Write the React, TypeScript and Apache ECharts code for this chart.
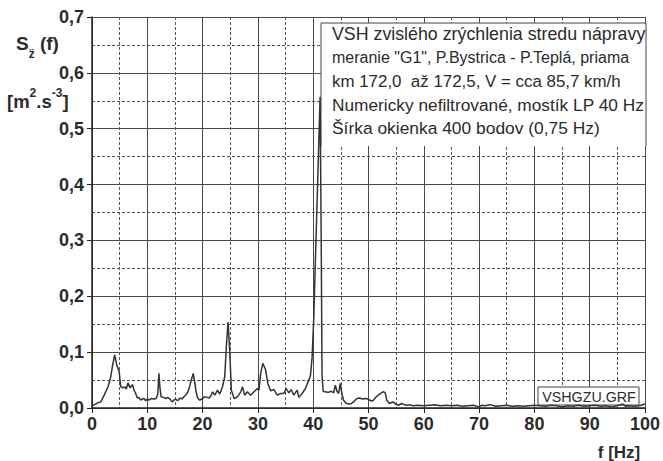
import React, { useEffect, useRef } from "react";
import * as echarts from "echarts";

// Frequency [Hz] and PSD values [m^2.s^-3]
const freqs = [
  0.0, 0.5, 1.0, 1.6, 2.2, 2.9, 3.4, 3.7, 4.1, 4.5, 4.9, 5.2, 5.6, 5.9, 6.2, 6.5, 6.9, 7.3, 7.6, 7.9,
  8.2, 8.5, 8.8, 9.1, 9.4, 9.7, 10.0, 10.3, 10.7, 11.2, 11.6, 11.9, 12.1, 12.3, 12.5, 12.9, 13.3, 13.7, 14.1, 14.5,
  14.8, 15.1, 15.5, 15.9, 16.3, 16.7, 17.2, 17.6, 17.9, 18.3, 18.6, 18.8, 19.1, 19.5, 20.0, 20.3, 20.8, 21.2, 21.5, 21.8,
  22.2, 22.7, 23.1, 23.6, 24.0, 24.3, 24.6, 24.9, 25.2, 25.7, 26.3, 26.9, 27.2, 27.6, 28.1, 28.7, 29.3, 29.9, 30.2, 30.5,
  30.9, 31.4, 31.8, 32.3, 32.9, 33.5, 34.1, 34.7, 35.1, 35.6, 36.0, 36.5, 37.1, 37.4, 38.0, 38.6, 39.2, 39.5, 39.8, 40.1,
  40.5, 41.0, 41.25, 41.45, 41.6, 41.8, 42.1, 42.7, 43.3, 43.7, 44.0, 44.3, 44.6, 44.9, 45.2, 45.5, 45.9, 46.4, 46.9, 47.4,
  47.9, 48.4, 48.9, 49.4, 49.9, 50.4, 50.8, 51.4, 52.0, 52.6, 53.0, 53.3, 53.8, 54.4, 54.9, 55.4, 56.0, 56.5, 57.0, 57.5,
  58, 59, 60, 61, 62, 63, 64, 65, 66, 67, 68, 69, 70, 70.5, 71, 72, 73, 74, 75, 76,
  77, 78, 79, 80, 81, 82, 83, 84, 85, 86, 87, 88, 89, 90, 91, 92, 93, 94, 95, 96,
  96.5, 97, 98, 99, 100,
];
const psd = [
  0.004, 0.006, 0.009, 0.011, 0.023, 0.038, 0.056, 0.075, 0.095, 0.076, 0.066, 0.038, 0.036, 0.038, 0.034, 0.045, 0.036, 0.042, 0.032, 0.026,
  0.018, 0.019, 0.014, 0.016, 0.017, 0.013, 0.016, 0.014, 0.017, 0.016, 0.017, 0.025, 0.062, 0.035, 0.02, 0.019, 0.017, 0.019, 0.016, 0.011,
  0.014, 0.016, 0.013, 0.018, 0.016, 0.021, 0.026, 0.036, 0.048, 0.062, 0.045, 0.03, 0.018, 0.014, 0.017, 0.02, 0.019, 0.018, 0.022, 0.029,
  0.023, 0.032, 0.025, 0.038, 0.056, 0.11, 0.154, 0.104, 0.032, 0.017, 0.02, 0.029, 0.038, 0.023, 0.029, 0.023, 0.029, 0.035, 0.032, 0.062,
  0.08, 0.068, 0.044, 0.031, 0.033, 0.023, 0.026, 0.026, 0.035, 0.027, 0.033, 0.023, 0.032, 0.019, 0.026, 0.035, 0.05, 0.058, 0.09, 0.16,
  0.3, 0.47, 0.557, 0.3, 0.06, 0.03, 0.029, 0.028, 0.03, 0.027, 0.041, 0.03, 0.026, 0.044, 0.025, 0.014, 0.009, 0.007, 0.008, 0.012,
  0.017, 0.018, 0.016, 0.017, 0.016, 0.013, 0.013, 0.02, 0.025, 0.029, 0.028, 0.014, 0.008, 0.011, 0.007, 0.005, 0.008, 0.006, 0.005, 0.006,
  0.004, 0.005, 0.004, 0.005, 0.006, 0.004, 0.005, 0.004, 0.005, 0.003, 0.004, 0.005, 0.002, 0.005, 0.004, 0.006, 0.003, 0.004, 0.005, 0.003,
  0.004, 0.003, 0.004, 0.005, 0.004, 0.003, 0.005, 0.004, 0.002, 0.004, 0.003, 0.005, 0.003, 0.004, 0.005, 0.003, 0.004, 0.002, 0.004, 0.007,
  0.003, 0.004, 0.003, 0.004, 0.007,
];

const infoLines = [
  "VSH zvislého zrýchlenia stredu nápravy",
  'meranie "G1", P.Bystrica - P.Teplá, priama',
  "km 172,0  až 172,5, V = cca 85,7 km/h",
  "Numericky nefiltrované, mostík LP 40 Hz",
  "Šírka okienka 400 bodov (0,75 Hz)",
];
const infoSizes = [17.8, 16, 16.9, 17.3, 17.4];
const fileLabel = "VSHGZU.GRF";
const xTitle = "f [Hz]";

const FONT = "'Liberation Sans', Arial, sans-serif";
const INK = "#2b2b2b";

export default function App() {
  const ref = useRef<HTMLDivElement>(null);
  useEffect(() => {
    document.body.style.margin = "0";
    const chart = echarts.init(ref.current!, null, { renderer: "svg" });
    const data = freqs.map((f, i) => [f, psd[i]]);
    const axisCommon = {
      type: "value" as const,
      axisLine: { show: true, lineStyle: { color: "#222", width: 1.5 } },
      axisTick: { show: true, length: 5, lineStyle: { color: "#222", width: 1 } },
      splitLine: { show: true, lineStyle: { color: "#4a4a4a", width: 1 } },
      minorTick: { show: false, splitNumber: 2 },
      minorSplitLine: { show: true, lineStyle: { color: "#555", width: 1, type: [3, 2] as any } },
    };
    chart.setOption({
      animation: false,
      backgroundColor: "#ffffff",
      grid: { left: 92, top: 17, width: 554, height: 391 },
      xAxis: {
        ...axisCommon,
        min: 0,
        max: 100,
        interval: 10,
        axisLabel: { fontSize: 18, fontWeight: "bold", color: INK, fontFamily: FONT, margin: 7 },
      },
      yAxis: {
        ...axisCommon,
        min: 0,
        max: 0.7,
        interval: 0.1,
        axisLabel: {
          fontSize: 18,
          fontWeight: "bold",
          color: INK,
          fontFamily: FONT,
          margin: 8,
          formatter: (v: number) => v.toFixed(1).replace(".", ","),
        },
      },
      series: [
        {
          type: "line",
          data,
          showSymbol: false,
          symbol: "none",
          z: 5,
          lineStyle: { color: "#333", width: 1.5 },
        },
      ],
      graphic: [
        { type: "rect", z: 1, shape: { x: 321, y: 23, width: 325, height: 123 }, style: { fill: "#fff" } },
        {
          type: "polyline",
          z: 2,
          shape: { points: [[321, 146], [321, 23], [646, 23], [646, 146]] },
          style: { stroke: "#444", lineWidth: 1, fill: null },
        },
        ...infoLines.map((t, i) => ({
          type: "text",
          z: 3,
          x: 332,
          y: 34 + i * 23.5,
          style: { text: t, fontSize: infoSizes[i], fontFamily: FONT, fill: INK, verticalAlign: "middle" },
        })),
        {
          type: "rect",
          z: 3,
          shape: { x: 538, y: 387, width: 101, height: 18 },
          style: { fill: "#fff", stroke: "#444", lineWidth: 1 },
        },
        {
          type: "text",
          z: 4,
          x: 589,
          y: 396.5,
          scaleX: 0.92,
          style: { text: fileLabel, fontSize: 15.5, fontFamily: FONT, fill: INK, align: "center", verticalAlign: "middle" },
        },
        {
          type: "text",
          z: 4,
          x: 619,
          y: 452,
          style: { text: xTitle, fontSize: 17, fontWeight: "bold", fontFamily: FONT, fill: INK, align: "center", verticalAlign: "middle" },
        },
        {
          type: "text",
          z: 4,
          x: 16,
          y: 47,
          style: {
            text: "{a|S}{b|z̈}{a| (f)}",
            fontFamily: FONT,
            fill: INK,
            verticalAlign: "middle",
            rich: {
              a: { fontSize: 19, fontWeight: "bold", fontFamily: FONT, fill: INK, lineHeight: 20, verticalAlign: "top" },
              b: { fontSize: 12, fontWeight: "bold", fontFamily: FONT, fill: INK, lineHeight: 26, verticalAlign: "bottom" },
            },
          },
        },
        {
          type: "text",
          z: 4,
          x: 7,
          y: 99,
          style: {
            text: "{a|[m}{s|2}{a|.s}{s|-3}{a|]}",
            fontFamily: FONT,
            fill: INK,
            verticalAlign: "middle",
            rich: {
              a: { fontSize: 18.5, fontWeight: "bold", fontFamily: FONT, fill: INK, lineHeight: 24, verticalAlign: "bottom" },
              s: { fontSize: 12, fontWeight: "bold", fontFamily: FONT, fill: INK, lineHeight: 12, verticalAlign: "top" },
            },
          },
        },
      ],
    });
    return () => chart.dispose();
  }, []);
  return <div ref={ref} style={{ width: 663, height: 461 }} />;
}
